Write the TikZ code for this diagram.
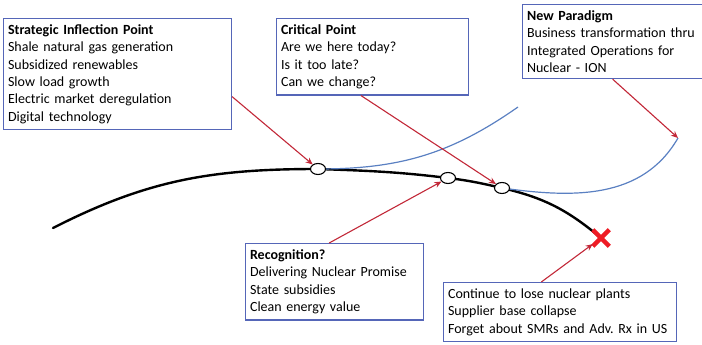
\documentclass[tikz,border=0pt]{standalone}
\usepackage{fontspec}
\setmainfont{Carlito}
\usetikzlibrary{arrows.meta,calc,shapes.geometric,shapes.misc,backgrounds}
\definecolor{boxblue}{HTML}{5566B8}
\definecolor{curveblue}{HTML}{5A80C2}
\definecolor{arrowred}{HTML}{C22838}
\definecolor{xred}{HTML}{EE1C25}
\frenchspacing
\tikzset{
  note/.style={draw=boxblue,line width=1.1pt,anchor=north west,align=left,inner xsep=4.5pt,inner ysep=6pt,font=\fontsize{14}{17.4}\selectfont},
  knot/.style={ellipse,draw,fill=white,line width=1.1pt,minimum width=15pt,minimum height=11pt,inner sep=0pt},
  pointer/.style={draw=arrowred,line width=1.1pt,-{Stealth[length=7pt,width=6pt]}},
  trunk/.style={line width=2.4pt,line cap=round},
  branch/.style={draw=curveblue,line width=1.2pt}
}
\begin{document}
\begin{tikzpicture}[x=1pt,y=1pt]
\useasboundingbox(0,0)rectangle(702,345);
\node[note,text width=219pt](sip)at(3,327){\textbf{Strategic Inflection Point}\\Shale natural gas generation\\Subsidized renewables\\Slow load growth\\Electric market deregulation\\Digital technology};
\node[note,text width=183pt](crit)at(276,327){\textbf{Critical Point}\\Are we here today?\\Is it too late?\\Can we change?};
\node[note,text width=175pt](para)at(522,341){\textbf{New Paradigm}\\Business transformation thru\\Integrated Operations for\\Nuclear - ION};
\node[note,text width=169pt](recog)at(245,102){\textbf{Recognition?}\\Delivering Nuclear Promise\\State subsidies\\Clean energy value};
\node[note,text width=224pt](loss)at(443,63){Continue to lose nuclear plants\\Supplier base collapse\\Forget about SMRs and Adv. Rx in US};
% points on the path
\coordinate(start)at(53,117);\coordinate(turn)at(518,238);\coordinate(rise)at(678,207);
\node[knot](c1)at(318,176){};\node[knot](c2)at(448,167){};\node[knot](c3)at(502,157){};
\node[cross out,draw=xred,line width=4.5pt,minimum size=12pt,inner sep=0pt](fail)at(601,107){};
\begin{scope}[on background layer]
\draw[trunk](start)to[out=27,in=180](c1.center)to[out=-2,in=173](c2.center)to[out=-7,in=167](c3.center)to[out=-13,in=140](fail.center);
\draw[branch](c1.center)to[out=0,in=215](turn);
\draw[branch](c3.center)to[out=-8,in=240](rise);
\end{scope}
\draw[pointer]($(sip.north east)!0.7!(sip.south east)$)--(c1);
\draw[pointer]($(crit.south west)!0.44!(crit.south east)$)--(c3);
\draw[pointer]($(para.south west)!0.49!(para.south east)$)--(rise);
\draw[pointer]($(recog.north west)!0.47!(recog.north east)$)--(c2);
\draw[pointer]($(loss.north west)!0.42!(loss.north east)$)--(fail);
\end{tikzpicture}
\end{document}
